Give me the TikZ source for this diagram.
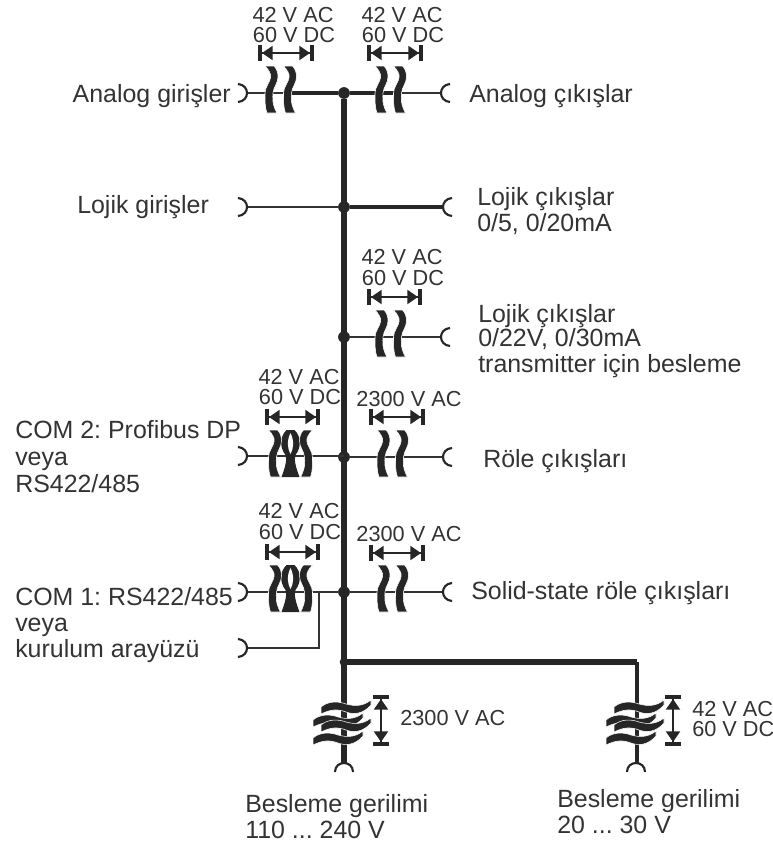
\documentclass[tikz,border=0pt]{standalone}
\usepackage{fontspec}
\setmainfont{Liberation Sans}
\usetikzlibrary{arrows.meta}
\frenchspacing
\tikzset{
  bus/.style={line width=4.9pt,draw=black!85},
  wire/.style={line width=2.4pt,draw=black!85},
  thin wire/.style={line width=1.7pt,draw=black!80},
  plug/.style={line width=1.6pt,draw=black!85},
  joint/.style={circle,fill=black!85,inner sep=0pt,minimum size=8.8pt},
  lbl/.style={inner sep=0pt,text=black!80,anchor=base west,font=\fontsize{18.7}{22}\selectfont},
  vlt/.style={inner sep=0pt,text=black!80,anchor=base,font=\fontsize{16.3}{20}\selectfont},
  wave/.style={fill=black!85,draw=white,line width=0.4pt},
  dim/.style={line width=1.5pt,draw=black!85,
    {Bar[width=12pt,line width=3pt]Triangle[length=8pt,width=10.5pt]}-{Triangle[length=8pt,width=10.5pt]Bar[width=12pt,line width=3pt]}},
  % one tapered wave, standing
  gapwave/.pic={
    \path[wave] (-5,-27) .. controls (-1,-23) and (1,-19) .. (0.7,-16)
      .. controls (0.4,-11) and (-5,-6) .. (-5,0)
      .. controls (-5,8) and (-5,15) .. (-3,20) -- (7,20)
      .. controls (4,15) and (2,9) .. (3,0)
      .. controls (3.5,-6) and (8,-10) .. (8,-16)
      .. controls (8,-20) and (7,-24) .. (4,-27) -- cycle;
  },
  % one tapered wave, lying
  supwave/.pic={
    \path[wave] (-25,-1) .. controls (-18,-7) and (-8,-7) .. (0,-4)
      .. controls (8,-2) and (16,-1) .. (25,-8) -- (25,-3)
      .. controls (17,6) and (8,7) .. (0,4)
      .. controls (-8,1) and (-15,1) .. (-25,6) -- cycle;
  },
  gapsym/.pic={
    \pic at (0,0) {gapwave};
    \pic at (18.5,0) {gapwave};
  },
  loopsym/.pic={
    \fill[black!85] (-4,-27) .. controls (-11,-20) and (-11,-10) .. (-5,-2)
      .. controls (-3,3) and (-6,12) .. (-9,20) -- (9,20)
      .. controls (6,12) and (3,3) .. (5,-2)
      .. controls (11,-10) and (11,-20) .. (4,-27) -- cycle;
    \fill[white] (0,-24) .. controls (-4,-16) and (-3,-8) .. (0,-3)
      .. controls (3,-8) and (4,-16) .. (0,-24) -- cycle;
    \pic at (-17,0) {gapwave};
    \pic[xscale=-1] at (17,0) {gapwave};
  },
  supsym/.pic={
    \pic at (2,-10) {supwave};
    \pic at (-6,3) {supwave};
    \pic at (2,8) {supwave};
    \pic at (-6,21) {supwave};
  },
}
\begin{document}
\begin{tikzpicture}[x=0.75pt,y=-0.75pt]
\useasboundingbox (0,0) rectangle (773,844);

% joints on the bus
\node[joint] (j1) at (344,93) {};
\node[joint] (j2) at (344,207) {};
\node[joint] (j3) at (344,337) {};
\node[joint] (j4) at (344,457) {};
\node[joint] (j5) at (344,592) {};
\node[joint,minimum size=6.5pt] (j6) at (344,662) {};
\coordinate (busend) at (344,764);
\coordinate (corner) at (637,662);
\coordinate (supr) at (637,764);
\coordinate (branch) at (319,592);
\coordinate (branchb) at (319,648);
\coordinate (gapa) at (288,93);
\coordinate (gapb) at (398,93);

% plugs
\coordinate (la) at (247,93);
\coordinate (lb) at (247,207);
\coordinate (lc) at (247,456);
\coordinate (ld) at (247,592);
\coordinate (le) at (247,648);
\coordinate (ra) at (441,93);
\coordinate (rb) at (443,207);
\coordinate (rc) at (441,337);
\coordinate (rd) at (443,457);
\coordinate (re) at (443,592);

\draw[bus] (j1) -- (j6.center);
\draw[bus,line width=3.8pt] (j6.center) -- (busend);
\draw[bus,line width=3.8pt] (j6.center) -- (corner);
\draw[wire,line width=3pt] (corner) -- (supr);

\draw[thin wire] (la) -- (gapa);
\draw[wire] (gapa) -- (j1);
\draw[wire] (j1) -- (gapb);
\draw[thin wire] (gapb) -- (ra);
\draw[thin wire] (lb) -- (j2);
\draw[wire] (j2) -- (rb);
\draw[thin wire] (j3) -- (rc);
\draw[thin wire] (lc) -- (lc-|j4);
\draw[thin wire] (j4) -- (rd);
\draw[thin wire] (ld) -- (j5);
\draw[thin wire] (j5) -- (re);
\draw[thin wire] (branch) -- (branchb) -- (le);

% plugs open to the left
\foreach \y in {93,207,456,592,648}
  \draw[plug] (238,\y-9) .. controls (250,\y-8) and (250,\y+8) .. (238,\y+9);
% plugs open to the right
\foreach \x/\y in {450/93,452/207,450/337,452/457,452/592}
  \draw[plug] (\x,\y-9) .. controls (\x-12,\y-8) and (\x-12,\y+8) .. (\x,\y+9);
% plugs open downward
\foreach \x in {344,636}
  \draw[plug] (\x-9,772) .. controls (\x-9,760) and (\x+9,760) .. (\x+9,772);

\pic at (270,93) {gapsym};
\pic at (380,93) {gapsym};
\pic at (380,337) {gapsym};
\pic at (382,457) {gapsym};
\pic at (382,592) {gapsym};
\pic at (290.5,457) {loopsym};
\pic at (290.5,592) {loopsym};
\pic at (344,718) {supsym};
\pic at (637,718) {supsym};

\draw[dim] (258,53) -- (314,53);
\draw[dim] (367,53) -- (423,53);
\draw[dim] (367,297) -- (422,297);
\draw[dim] (265,417) -- (320,417);
\draw[dim] (369,417) -- (425,417);
\draw[dim] (265,552) -- (320,552);
\draw[dim] (369,553) -- (425,553);
\draw[dim] (381,695) -- (381,746);
\draw[dim] (673,695) -- (673,746);

\node[vlt] (ac1) at (293,22) {42 V AC};
\node[vlt] (dc1) at (294,42) {60 V DC};
\node[vlt] (ac2) at (402,22) {42 V AC};
\node[vlt] (dc2) at (403,42) {60 V DC};
\node[vlt] (ac3) at (402,264) {42 V AC};
\node[vlt] (dc3) at (403,285) {60 V DC};
\node[vlt] (ac4) at (299,384) {42 V AC};
\node[vlt] (dc4) at (300,404) {60 V DC};
\node[vlt] (ac5) at (299,518) {42 V AC};
\node[vlt] (dc5) at (300,539) {60 V DC};
\node[vlt] (hv1) at (409,406) {2300 V AC};
\node[vlt] (hv2) at (409,541) {2300 V AC};
\node[vlt,anchor=base west] (hv3) at (400,725) {2300 V AC};
\node[vlt,anchor=base west] (ac6) at (692,716) {42 V AC};
\node[vlt,anchor=base west] (dc6) at (692,736) {60 V DC};

\node[lbl,anchor=base east] (ain) at (231,102) {Analog girişler};
\node[lbl] (aout) at (469,102) {Analog çıkışlar};
\node[lbl] (lin) at (77,213) {Lojik girişler};
\node[lbl] (lout1) at (477,205) {Lojik çıkışlar};
\node[lbl] (lout2) at (477,231) {0/5, 0/20mA};
\node[lbl] (lout3) at (478,322) {Lojik çıkışlar};
\node[lbl] (lout4) at (478,346) {0/22V, 0/30mA};
\node[lbl] (lout5) at (478,372) {transmitter için besleme};
\node[lbl] (com2a) at (15,438) {COM 2: Profibus DP};
\node[lbl] (com2b) at (15,465) {veya};
\node[lbl] (com2c) at (15,492) {RS422/485};
\node[lbl] (relay) at (483,467) {Röle çıkışları};
\node[lbl] (com1a) at (15,605) {COM 1: RS422/485};
\node[lbl] (com1b) at (15,631) {veya};
\node[lbl] (com1c) at (15,657) {kurulum arayüzü};
\node[lbl] (ssr) at (471,599) {Solid-state röle çıkışları};
\node[lbl] (pa1) at (245,812) {Besleme gerilimi};
\node[lbl] (pa2) at (245,838) {110 ... 240 V};
\node[lbl] (pb1) at (557,807) {Besleme gerilimi};
\node[lbl] (pb2) at (557,833) {20 ... 30 V};
\end{tikzpicture}
\end{document}
